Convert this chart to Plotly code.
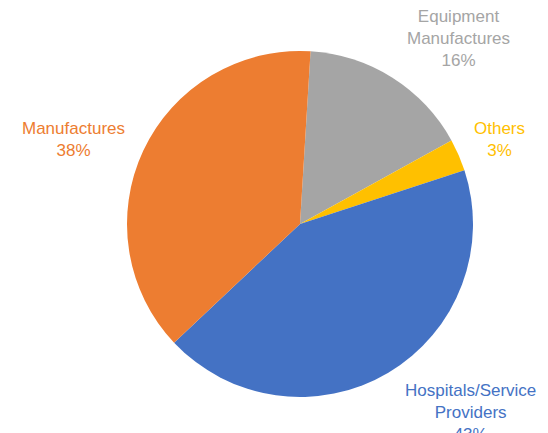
import plotly.graph_objects as go

labels = ["Equipment Manufactures", "Others", "Hospitals/Service Providers", "Manufactures"]
label_text = ["Equipment<br>Manufactures<br>16%", "Others<br>3%", "Hospitals/Service<br>Providers<br>43%", "Manufactures<br>38%"]
values = [16, 3, 43, 38]
colors = ["#A5A5A5", "#FFC000", "#4472C4", "#ED7D31"]

W, H = 548, 433
OFF = 8  # page body margin
label_pos = [(458, 38), (499, 139), (470, 412), (73, 139)]

fig = go.Figure(go.Pie(
    labels=labels, values=values, sort=False, direction="clockwise", rotation=3.5,
    marker=dict(colors=colors, line=dict(width=0)),
    textinfo="none", hoverinfo="label+percent", showlegend=False,
    domain=dict(x=[(127 - OFF) / W, (473 - OFF) / W], y=[1 - (397 - OFF) / H, 1 - (51 - OFF) / H]),
))

for txt, c, (px, py) in zip(label_text, colors, label_pos):
    fig.add_annotation(x=(px - OFF) / W, y=1 - (py - OFF) / H, xref="paper", yref="paper",
                       text=txt, showarrow=False, xanchor="center", yanchor="middle",
                       font=dict(family="Liberation Sans, Arial", size=17, color=c))

fig.update_layout(width=W, height=H, margin=dict(l=0, r=0, t=0, b=0),
                  paper_bgcolor="white", plot_bgcolor="white")
fig.write_html("out.html")
